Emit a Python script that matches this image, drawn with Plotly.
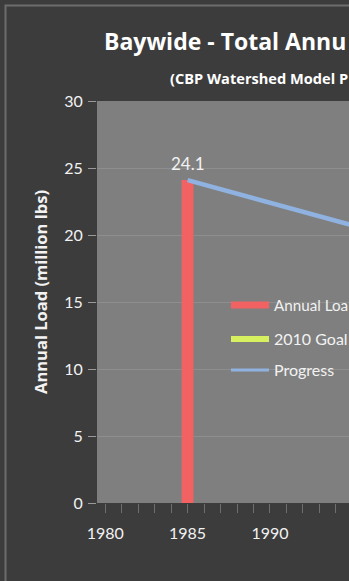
import plotly.graph_objects as go

# ---- data ----
load_years = [1985]
load_values = [24.1]
goal_years = [2010]
goal_values = [12.8]
progress_years = [1985, 2009]
progress_values = [24.1, 16.0]
y_ticks = [0, 5, 10, 15, 20, 25, 30]
x_ticks = [1980, 1985, 1990, 1995, 2000, 2005, 2010]
legend_names = ["Annual Loa", "2010 Goal", "Progress"]

W, H = 349, 581
L, R, T, B = 97, 0, 101, 78
PW, PH = W - L - R, H - T - B


def px(x):
    return (x - L) / PW


def py(y):
    return (H - B - y) / PH


FONT = "Lato"
BFONT = "Open Sans"
RED, GOAL, BLUE = "#f26262", "#d6f060", "#8fb2e0"
fig = go.Figure()

# bars (no legend), drawn through the axis scale
fig.add_trace(go.Bar(x=load_years, y=load_values, width=0.72, marker=dict(color=RED, line=dict(width=0)),
                     showlegend=False, name="Annual Load"))
fig.add_trace(go.Bar(x=goal_years, y=goal_values, width=0.72, marker=dict(color=GOAL, line=dict(width=0)),
                     showlegend=False, name="2010 Goal"))
fig.add_trace(go.Scatter(x=progress_years, y=progress_values, mode="lines",
                         line=dict(color=BLUE, width=4.5), showlegend=False, name="Progress"))

# legend keys
fig.add_trace(go.Scatter(x=[None], y=[None], mode="lines", line=dict(color=RED, width=7),
                         name=legend_names[0], legend="legend"))
fig.add_trace(go.Scatter(x=[None], y=[None], mode="lines", line=dict(color=GOAL, width=6),
                         name=legend_names[1], legend="legend2"))
fig.add_trace(go.Scatter(x=[None], y=[None], mode="lines", line=dict(color=BLUE, width=3),
                         name=legend_names[2], legend="legend3"))

leg_common = dict(font=dict(color="#f2f2f2", size=16, family=FONT),
                  bgcolor="rgba(0,0,0,0)", xanchor="left", yanchor="middle",
                  x=px(226), itemwidth=38)

annotations = [
    dict(text="<b>Baywide - Total Annu</b>", xref="paper", yref="paper",
         x=px(102), y=py(41), xanchor="left", yanchor="middle", showarrow=False,
         font=dict(size=23, color="#ffffff", family=BFONT)),
    dict(text="<b>(CBP Watershed Model P</b>", xref="paper", yref="paper",
         x=px(168), y=py(78), xanchor="left", yanchor="middle", showarrow=False,
         font=dict(size=14.6, color="#ffffff", family=BFONT)),
    dict(text="<b>Annual Load (million lbs)</b>", xref="paper", yref="paper",
         x=px(40), y=py(292), xanchor="center", yanchor="middle", showarrow=False,
         textangle=-90, font=dict(size=16.5, color="#f2f2f2", family=BFONT)),
]
for xv, yv in zip(load_years, load_values):
    annotations.append(dict(text=f"{yv:.1f}", x=xv, y=yv, xref="x", yref="y", showarrow=False,
                            yanchor="bottom", yshift=4,
                            font=dict(size=17, color="#f2f2f2", family=FONT)))

leg1 = dict(leg_common, y=py(305))
leg1["font"] = dict(color="#f2f2f2", size=15.2, family=FONT)

fig.update_layout(
    width=W, height=H,
    margin=dict(l=L, r=R, t=T, b=B, pad=0, autoexpand=False),
    paper_bgcolor="#3c3c3c",
    plot_bgcolor="#7f7f7f",
    font=dict(family=FONT, color="#f2f2f2"),
    legend=leg1,
    legend2=dict(leg_common, y=py(339)),
    legend3=dict(leg_common, y=py(370)),
    xaxis=dict(
        range=[1979.5, 1994.8], tickvals=x_ticks, ticktext=[str(v) for v in x_ticks],
        showgrid=False, zeroline=False, showline=False,
        ticks="outside", ticklen=9, tickwidth=1, tickcolor="#6e6e6e",
        minor=dict(dtick=1, ticks="outside", ticklen=9, tickcolor="#6e6e6e", showgrid=False),
        tickfont=dict(size=16, color="#f2f2f2", family=FONT),
        ticklabelstandoff=7,
    ),
    yaxis=dict(
        range=[0, 30], tickvals=y_ticks, showgrid=True, gridcolor="#8e8e8e", gridwidth=1,
        zeroline=False, showline=False,
        ticks="outside", ticklen=8, tickcolor="#9a9a9a",
        tickfont=dict(size=16, color="#f2f2f2", family=FONT),
        ticklabelstandoff=2,
    ),
    shapes=[
        dict(type="rect", xref="paper", yref="paper", x0=px(5.5), x1=px(400),
             y0=py(640), y1=py(5.5), line=dict(color="#6c6c6c", width=2),
             fillcolor="rgba(0,0,0,0)", layer="below"),
    ],
    annotations=annotations,
)

fig.write_html("out.html")
